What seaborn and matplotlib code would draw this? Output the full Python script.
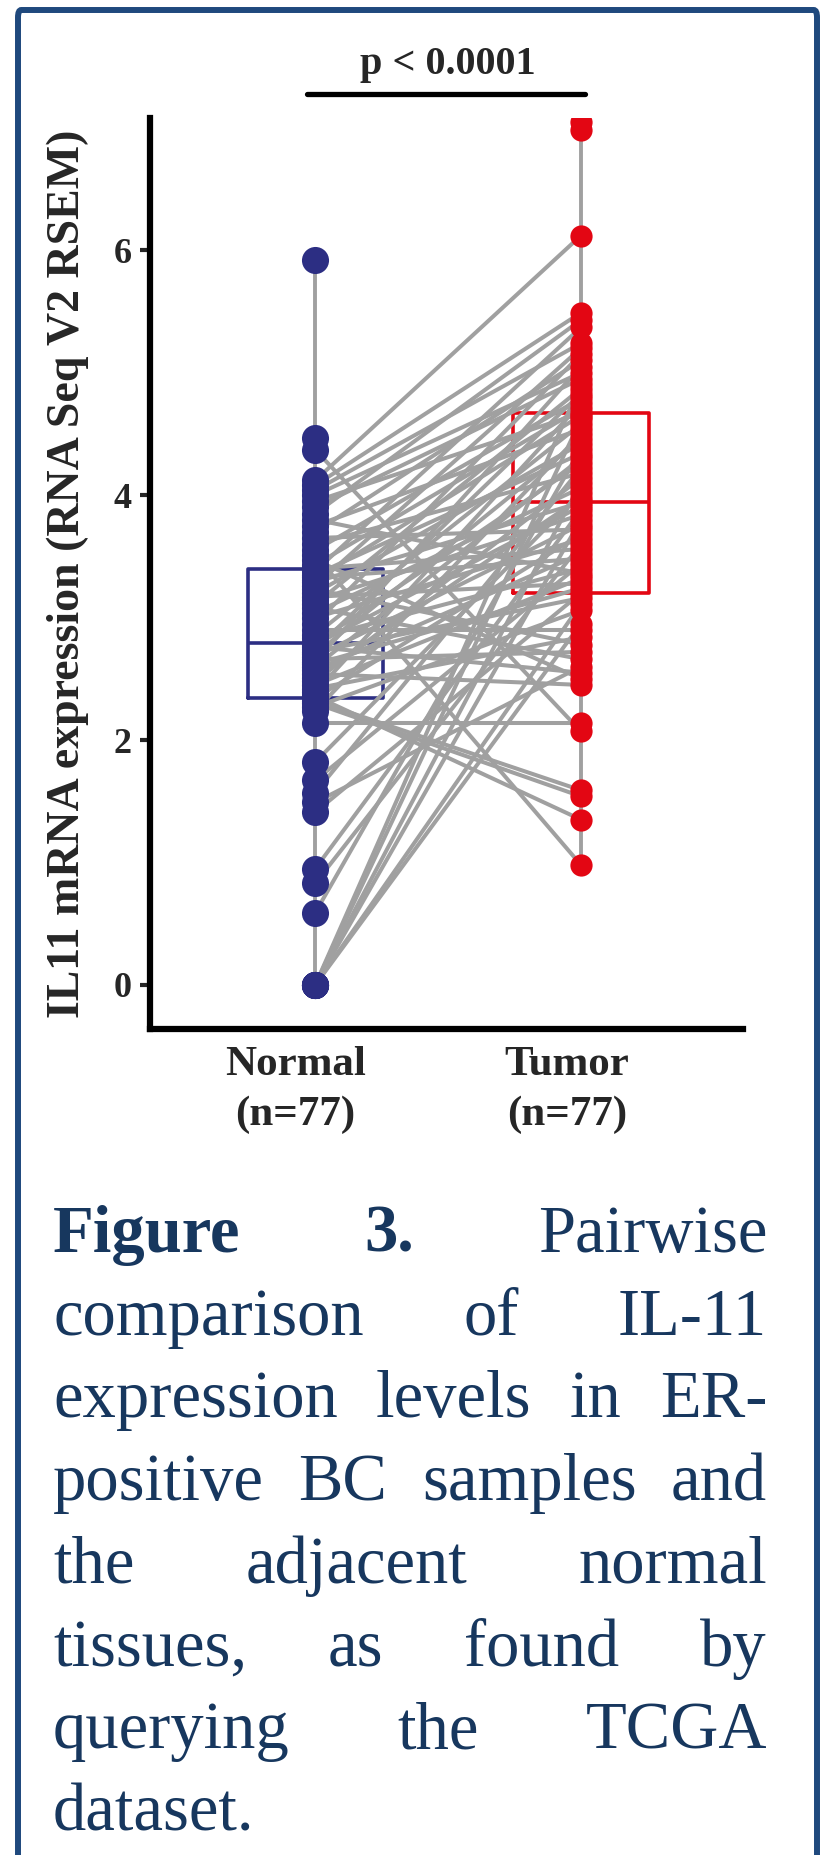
import numpy as np
import pandas as pd
import matplotlib
matplotlib.use('Agg')
import matplotlib.pyplot as plt
import matplotlib.transforms as mtransforms
from matplotlib.patches import FancyBboxPatch
import seaborn as sns

# ---- data ----
groups = ['Normal', 'Tumor']
group_labels = ['Normal\n(n=77)', 'Tumor\n(n=77)']

# IL11 expression, paired by index (normal[i] <-> tumor[i])
normal = [0.00, 0.00, 0.00, 0.00, 0.00, 0.00, 0.59, 0.83, 0.95, 1.41,
          1.49, 1.57, 1.67, 1.82, 2.14, 2.24, 2.27, 2.30, 2.32, 2.34,
          2.36, 2.39, 2.42, 2.45, 2.48, 2.51, 2.54, 2.57, 2.60, 2.62,
          2.64, 2.66, 2.68, 2.70, 2.72, 2.74, 2.76, 2.78, 2.79, 2.83,
          2.86, 2.90, 2.95, 3.00, 3.04, 3.08, 3.11, 3.14, 3.17, 3.20,
          3.23, 3.26, 3.29, 3.31, 3.33, 3.35, 3.38, 3.40, 3.43, 3.47,
          3.51, 3.55, 3.60, 3.65, 3.70, 3.75, 3.80, 3.85, 3.90, 3.95,
          4.00, 4.04, 4.08, 4.12, 4.37, 4.47, 5.92]
tumor = [4.91, 4.62, 4.10, 3.80, 3.11, 2.95, 4.38, 3.60, 3.88, 3.20,
         2.60, 4.22, 3.44, 4.02, 2.14, 4.50, 3.06, 1.54, 1.59, 3.68,
         1.35, 4.75, 2.84, 3.32, 4.14, 3.98, 2.45, 3.52, 4.30, 3.24,
         5.05, 2.72, 3.76, 4.46, 3.16, 4.83, 2.55, 3.91, 4.26, 3.40,
         4.58, 2.90, 5.15, 3.64, 4.06, 2.66, 4.87, 3.84, 3.28, 4.42,
         2.78, 5.20, 3.94, 4.65, 3.48, 4.34, 5.37, 3.56, 4.71, 2.50,
         0.98, 4.79, 4.18, 3.72, 5.10, 4.54, 3.36, 5.43, 4.95, 4.67,
         5.00, 5.24, 5.49, 6.12, 2.07, 6.98, 7.05]
unlinked = [75, 76]   # pairs drawn without a connecting line
y_ticks = [0, 2, 4, 6]
p_label = 'p < 0.0001'
y_label = 'IL11 mRNA expression (RNA Seq V2 RSEM)'

caption_lines = [
    [('Figure', 'bold'), ('3.', 'bold'), ('Pairwise', 'normal')],
    'comparison of IL-11',
    'expression levels in ER-',
    'positive BC samples and',
    'the adjacent normal',
    'tissues, as found by',
    'querying the TCGA',
    'dataset.',
]

palette = {'Normal': '#2c2e83', 'Tumor': '#e30613'}
dot_sizes = {'Normal': 19.5, 'Tumor': 16}
grey = '#a0a0a0'
navy = '#17375e'

W, H = 838, 1855
sns.set_style('white')
plt.rcParams['font.family'] = ['Liberation Serif', 'DejaVu Serif']

fig = plt.figure(figsize=(W / 100, H / 100), dpi=100)
ax = fig.add_axes([150 / W, 1 - 1029 / H, (743 - 150) / W, (1029 - 118) / H])

long = pd.DataFrame({
    'pair': np.tile(np.arange(len(normal)), 2),
    'group': np.repeat(groups, len(normal)),
    'value': normal + tumor,
})
long['pos'] = long['group'].map({g: i for i, g in enumerate(groups)})
links = long[~long['pair'].isin(unlinked)]

sns.boxplot(data=long, x='group', y='value', hue='group', order=groups,
            hue_order=groups, palette=palette, fill=False, width=0.51,
            linewidth=2.6, whis=(0, 100), showcaps=False,
            whiskerprops=dict(color=grey, linewidth=2.8),
            legend=False, ax=ax, zorder=1)

sns.lineplot(data=links, x='pos', y='value', units='pair', estimator=None,
             color=grey, linewidth=2.9, legend=False, ax=ax, zorder=2)

for g in groups:
    sns.stripplot(data=long[long['group'] == g], x='group', y='value',
                  order=groups, color=palette[g], size=dot_sizes[g],
                  jitter=False, linewidth=0, ax=ax, zorder=3)

ax.set_xlim(-0.622, 1.61)
ax.set_ylim(-0.36, 7.08)
ax.set_xticks(range(len(groups)), group_labels)
ax.set_yticks(y_ticks)
ax.set_xlabel('')
ax.set_ylabel(y_label, fontsize=33, fontweight='bold')
ax.yaxis.set_label_coords(-0.138, 0.5)
ax.yaxis.label.set_va('center')

for side in ['top', 'right']:
    ax.spines[side].set_visible(False)
for side in ['left', 'bottom']:
    ax.spines[side].set_linewidth(4.5)
    ax.spines[side].set_color('black')

ax.tick_params(axis='y', length=7, width=3, pad=6, labelsize=26, left=True)
ax.tick_params(axis='x', length=0, pad=12, labelsize=31)
for lab in ax.get_yticklabels():
    lab.set_fontweight('bold')
for lab, dx in zip(ax.get_xticklabels(), [-20, -14]):
    lab.set_fontweight('bold')
    lab.set_linespacing(1.4)
    lab.set_transform(lab.get_transform() +
                      mtransforms.ScaledTranslation(dx / 100, 0, fig.dpi_scale_trans))

# significance bar
ax.plot([-0.03, 1.015], [7.28, 7.28], color='black', lw=3.8, clip_on=False)
ax.text(0.5, 7.52, p_label, ha='center', va='center', fontsize=29,
        fontweight='bold', clip_on=False)

# outer frame
frame = FancyBboxPatch((18 / W, -0.05), (817 - 18) / W, 1.05 - 10 / H,
                       boxstyle='round,pad=0,rounding_size=0.004',
                       transform=fig.transFigure, fill=False,
                       ec='#1f497d', lw=4.3, clip_on=False)
fig.patches.append(frame)

# justified caption
renderer = fig.canvas.get_renderer()
x0, x1 = 53, 767
for i, line in enumerate(caption_lines):
    if isinstance(line, str):
        words = [(w, 'normal') for w in line.split()]
    else:
        words = line
    yb = 1252 + i * 82.7
    arts = [fig.text(0, 1 - yb / H, w, fontsize=48, fontweight=fw,
                     color=navy, va='baseline', ha='left') for w, fw in words]
    widths = [a.get_window_extent(renderer).width for a in arts]
    if i == len(caption_lines) - 1 or len(arts) == 1:
        gap = 14
    else:
        gap = (x1 - x0 - sum(widths)) / (len(arts) - 1)
    x = x0
    for a, w in zip(arts, widths):
        a.set_x(x / W)
        x += w + gap

fig.savefig('out.png', dpi=100)
